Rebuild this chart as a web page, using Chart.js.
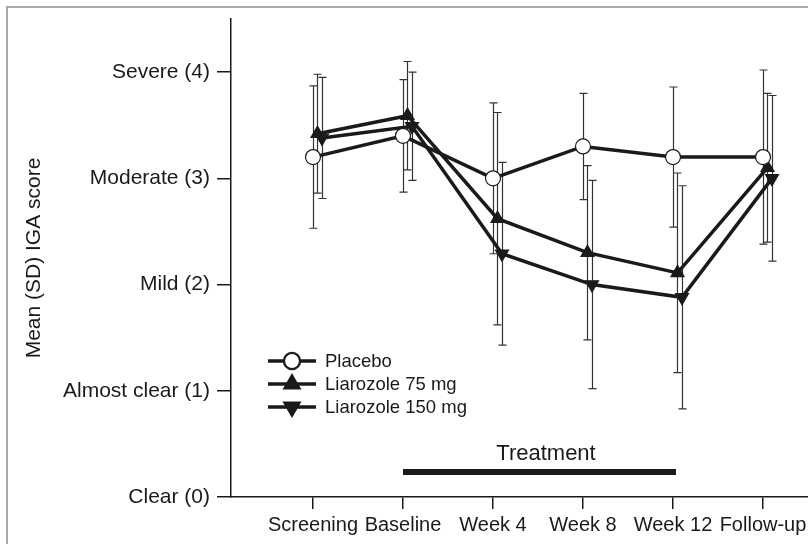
<!DOCTYPE html>
<html>
<head>
<meta charset="utf-8">
<script src="https://cdn.jsdelivr.net/npm/chart.js@4.4.1/dist/chart.umd.min.js"></script>
<style>
  body { margin: 0; background: #fff; }
  #wrap { position: relative; width: 808px; height: 544px; }
  #frame { position: absolute; left: 6px; top: 6px; right: 0; bottom: 0; border-left: 2px solid #a9a9a9; border-top: 2px solid #a9a9a9; pointer-events: none; }
</style>
</head>
<body>
<div id="wrap">
  <canvas id="myChart" width="808" height="544"></canvas>
  <div id="frame"></div>
</div>
<script>
const visits = ['Screening', 'Baseline', 'Week 4', 'Week 8', 'Week 12', 'Follow-up'];
const scoreLabels = ['Clear (0)', 'Almost clear (1)', 'Mild (2)', 'Moderate (3)', 'Severe (4)'];

const placeboMean = [3.2, 3.4, 3.0, 3.3, 3.2, 3.2];
const placeboSD = [0.67, 0.53, 0.71, 0.5, 0.66, 0.82];
const lia75Mean = [3.42, 3.59, 2.62, 2.3, 2.11, 3.1];
const lia75SD = [0.56, 0.51, 1.0, 0.82, 0.94, 0.7];
const lia150Mean = [3.38, 3.49, 2.29, 2.0, 1.88, 3.0];
const lia150SD = [0.57, 0.51, 0.86, 0.98, 1.05, 0.78];

// treatment period runs from Baseline to Week 12
const treatmentFrom = 1;
const treatmentTo = 4;

const font = "'Liberation Sans', Arial, sans-serif";
const ink = '#1a1a1a';

function points(means, shift) {
    return means.map((m, i) => ({ x: i + shift, y: m }));
}

const series = [
    { label: 'Placebo', mean: placeboMean, sd: placeboSD, shift: 0, style: 'circle', rot: 0, fill: '#fff' },
    { label: 'Liarozole 75 mg', mean: lia75Mean, sd: lia75SD, shift: 0.05, style: 'triangle', rot: 0, fill: ink },
    { label: 'Liarozole 150 mg', mean: lia150Mean, sd: lia150SD, shift: 0.1, style: 'triangle', rot: 180, fill: ink }
];

const errorBars = {
    id: 'errorBars',
    beforeDatasetsDraw(chart) {
        const ctx = chart.ctx;
        const xs = chart.scales.x, ys = chart.scales.y;
        ctx.save();
        ctx.strokeStyle = '#333';
        ctx.lineWidth = 1.2;
        series.forEach(s => {
            s.mean.forEach((m, i) => {
                const px = Math.round(xs.getPixelForValue(i + s.shift)) + 0.5;
                const top = ys.getPixelForValue(m + s.sd[i]);
                const bot = ys.getPixelForValue(m - s.sd[i]);
                ctx.beginPath();
                ctx.moveTo(px, top); ctx.lineTo(px, bot);
                ctx.moveTo(px - 4, top); ctx.lineTo(px + 4, top);
                ctx.moveTo(px - 4, bot); ctx.lineTo(px + 4, bot);
                ctx.stroke();
            });
        });
        ctx.restore();
    }
};

const extras = {
    id: 'extras',
    afterDraw(chart) {
        const ctx = chart.ctx;
        const xs = chart.scales.x;
        ctx.save();
        // treatment bar
        const x1 = xs.getPixelForValue(treatmentFrom);
        const x2 = xs.getPixelForValue(treatmentTo);
        ctx.fillStyle = ink;
        ctx.fillRect(x1, 469, x2 - x1 + 3, 6);
        ctx.font = '22px ' + font;
        ctx.textAlign = 'center';
        ctx.textBaseline = 'middle';
        ctx.fillText('Treatment', (x1 + x2) / 2 + 8, 454);

        // legend: line with marker, then label
        const rows = [361, 384, 407];
        series.forEach((s, k) => {
            const y = rows[k];
            ctx.strokeStyle = ink;
            ctx.lineWidth = 3.5;
            ctx.beginPath();
            ctx.moveTo(268, y); ctx.lineTo(316, y);
            ctx.stroke();
            Chart.helpers.drawPoint(ctx, {
                pointStyle: s.style, radius: 7.5, rotation: s.rot, borderWidth: 1.2
            }, 292, y);
            ctx.fillStyle = s.fill;
            ctx.strokeStyle = ink;
            ctx.lineWidth = 1.2;
            ctx.fill();
            ctx.stroke();
            ctx.fillStyle = ink;
            ctx.textAlign = 'left';
            ctx.font = '18.5px ' + font;
            ctx.fillText(s.label, 325, y + 1);
        });
        ctx.restore();
    }
};

const ctx = document.getElementById('myChart').getContext('2d');
new Chart(ctx, {
    type: 'line',
    data: {
        datasets: series.map(s => ({
            label: s.label,
            data: points(s.mean, s.shift),
            borderColor: ink,
            borderWidth: 3.5,
            backgroundColor: s.fill,
            pointStyle: s.style,
            pointRotation: s.rot,
            pointRadius: 7.5,
            pointBorderWidth: 1.2,
            pointBorderColor: ink,
            pointBackgroundColor: s.fill,
            tension: 0,
            clip: false
        }))
    },
    options: {
        responsive: false,
        animation: false,
        layout: { autoPadding: false, padding: { left: 22, top: 19, right: 0, bottom: 0 } },
        plugins: {
            legend: { display: false },
            tooltip: { enabled: false }
        },
        scales: {
            x: {
                type: 'linear',
                min: -0.911,
                max: 5.5,
                afterBuildTicks: scale => { scale.ticks = visits.map((v, i) => ({ value: i })); },
                afterFit: scale => {
                    scale.height = 47;
                    scale.paddingLeft = 0;
                    scale.paddingRight = 0;
                },
                ticks: {
                    autoSkip: false,
                    maxRotation: 0,
                    padding: 4,
                    color: ink,
                    font: { family: font, size: 20 },
                    callback: v => visits[v]
                },
                grid: { drawOnChartArea: false, drawTicks: true, tickLength: 12, color: ink, lineWidth: 1.5 },
                border: { color: ink, width: 1.5 }
            },
            y: {
                min: 0,
                max: 4.5,
                afterBuildTicks: scale => { scale.ticks = scoreLabels.map((v, i) => ({ value: i })); },
                afterFit: scale => {
                    scale.width = 209;
                    scale.paddingTop = 0;
                    scale.paddingBottom = 0;
                },
                ticks: {
                    padding: 7,
                    color: ink,
                    font: { family: font, size: 21 },
                    callback: v => scoreLabels[v]
                },
                grid: { drawOnChartArea: false, drawTicks: true, tickLength: 14, color: ink, lineWidth: 1.5 },
                border: { color: ink, width: 1.5 },
                title: {
                    display: true,
                    text: 'Mean (SD) IGA score',
                    color: ink,
                    font: { family: font, size: 21 },
                    padding: 0
                }
            }
        }
    },
    plugins: [errorBars, extras]
});
</script>
</body>
</html>
